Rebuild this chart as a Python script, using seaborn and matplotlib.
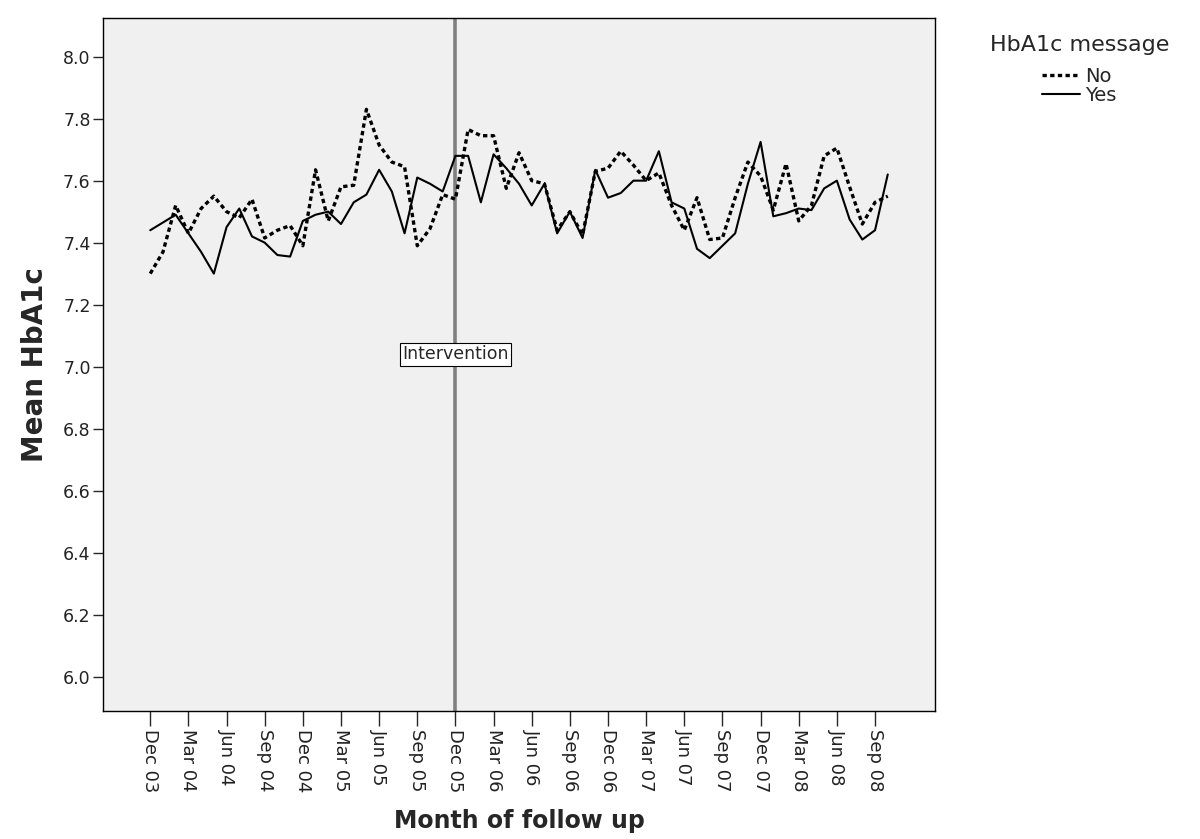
import numpy as np
import pandas as pd
import matplotlib
matplotlib.use('Agg')
import matplotlib.pyplot as plt
import seaborn as sns

# monthly mean HbA1c, Dec 03 .. Oct 08
months = list(range(59))
tick_pos = list(range(0, 58, 3))
tick_labels = ['Dec 03', 'Mar 04', 'Jun 04', 'Sep 04', 'Dec 04', 'Mar 05', 'Jun 05',
               'Sep 05', 'Dec 05', 'Mar 06', 'Jun 06', 'Sep 06', 'Dec 06', 'Mar 07',
               'Jun 07', 'Sep 07', 'Dec 07', 'Mar 08', 'Jun 08', 'Sep 08']

hba1c_no = [7.30, 7.37, 7.52, 7.43, 7.51, 7.55, 7.50, 7.48, 7.54, 7.415,
            7.44, 7.455, 7.39, 7.635, 7.47, 7.58, 7.585, 7.83, 7.715, 7.66,
            7.645, 7.39, 7.445, 7.555, 7.54, 7.765, 7.745, 7.745, 7.575, 7.69,
            7.60, 7.59, 7.44, 7.50, 7.425, 7.63, 7.64, 7.695, 7.65, 7.60,
            7.625, 7.52, 7.44, 7.545, 7.41, 7.415, 7.545, 7.66, 7.615, 7.505,
            7.655, 7.47, 7.52, 7.68, 7.705, 7.58, 7.46, 7.53, 7.55]

hba1c_yes = [7.44, 7.465, 7.49, 7.43, 7.37, 7.30, 7.45, 7.51, 7.42, 7.40,
             7.36, 7.355, 7.47, 7.49, 7.50, 7.46, 7.53, 7.555, 7.635, 7.565,
             7.43, 7.61, 7.59, 7.565, 7.68, 7.68, 7.53, 7.685, 7.64, 7.59,
             7.52, 7.59, 7.43, 7.50, 7.415, 7.635, 7.545, 7.56, 7.60, 7.60,
             7.695, 7.53, 7.51, 7.38, 7.35, 7.39, 7.43, 7.59, 7.725, 7.485,
             7.495, 7.51, 7.505, 7.575, 7.60, 7.475, 7.41, 7.44, 7.62]

intervention_month = 24

df = pd.DataFrame({
    'month': months * 2,
    'hba1c': hba1c_no + hba1c_yes,
    'message': ['No'] * len(months) + ['Yes'] * len(months),
})

sns.set_style('ticks')
plt.rcParams['font.family'] = ['DejaVu Sans']

fig = plt.figure(figsize=(12, 8.39), dpi=100)
ax = fig.add_axes([0.086, 0.153, 0.693, 0.826])
ax.set_facecolor('#f0f0f0')

sns.lineplot(data=df, x='month', y='hba1c', style='message', color='black',
             dashes={'No': (1.3, 1.0), 'Yes': ''}, size='message',
             sizes={'No': 2.4, 'Yes': 1.5}, ax=ax, legend=False)

ax.axvline(intervention_month, color='#808080', lw=2.6, zorder=1)
ax.text(intervention_month, 7.04, 'Intervention', ha='center', va='center', fontsize=12.5,
        bbox=dict(boxstyle='square,pad=0.15', fc='white', ec='black', lw=0.8))

ax.set_xlim(-3.7, 61.7)
ax.set_ylim(5.89, 8.126)
ax.set_yticks(np.arange(6.0, 8.01, 0.2))
ax.set_yticklabels(['%.1f' % v for v in np.arange(6.0, 8.01, 0.2)], fontsize=12.5, color='#222222')
ax.set_xticks(tick_pos)
ax.set_xticklabels(tick_labels, rotation=-90, fontsize=13, color='#222222')
ax.tick_params(axis='y', length=7, width=1, direction='out', pad=2)
ax.tick_params(axis='x', length=11, width=1, direction='out', pad=2)

for s in ax.spines.values():
    s.set_visible(True)
    s.set_color('black')
    s.set_linewidth(1.0)

ax.set_xlabel('Month of follow up', fontsize=17, fontweight='bold', labelpad=12)
ax.set_ylabel('Mean HbA1c', fontsize=20, fontweight='bold', labelpad=10)

# legend outside the plot, no frame
fig.text(0.9, 0.946, 'HbA1c message', fontsize=16, ha='center', va='center')
h_no = plt.Line2D([], [], color='black', lw=2.4, dashes=(1.3, 1.0))
h_yes = plt.Line2D([], [], color='black', lw=1.5)
fig.legend([h_no, h_yes], ['No', 'Yes'], loc='upper left', bbox_to_anchor=(0.868, 0.92),
           frameon=False, fontsize=14, handlelength=2.0, handletextpad=0.25,
           labelspacing=0.0, borderpad=0, borderaxespad=0)

fig.savefig('out.png', dpi=100)
